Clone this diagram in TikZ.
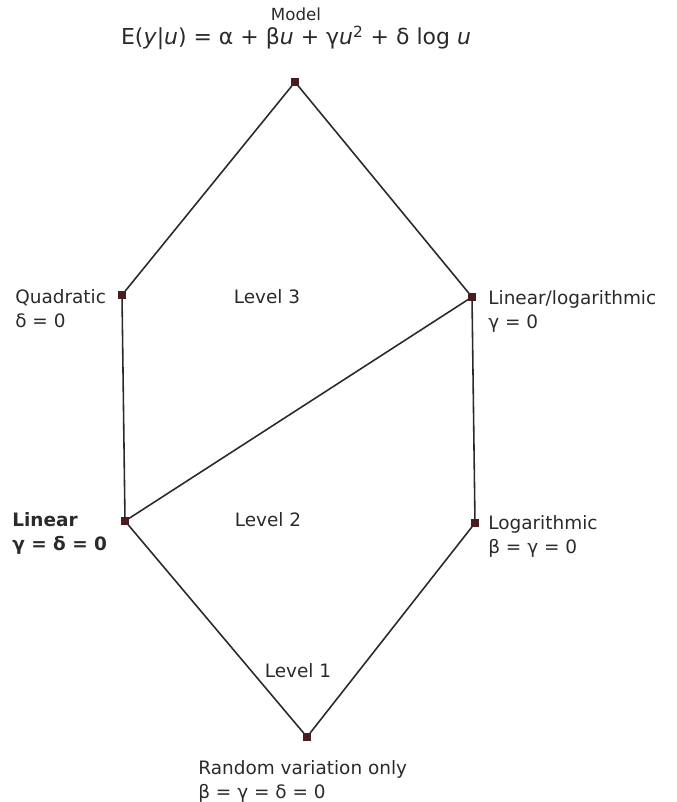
\documentclass[tikz,border=0pt]{standalone}
\usepackage{fontspec}
\setmainfont{DejaVu Sans}
\usepackage{xcolor}
\definecolor{ink}{HTML}{2A2A2A}
\definecolor{dot}{HTML}{4A1E1E}
\usepackage{tikz}
\usetikzlibrary{positioning}

\begin{document}
\begin{tikzpicture}[
    vertex/.style={rectangle,fill=dot,minimum size=4pt,inner sep=0pt},
    lbl/.style={font=\fontsize{10.5}{13.6}\selectfont,text=ink,inner sep=0pt,align=left},
    edge/.style={draw=ink,line width=0.9pt}
  ]
  \useasboundingbox (0,0) rectangle (13.54,-16.04);

  % lattice of models
  \node[vertex] (full) at (5.9,-1.64) {};
  \node[vertex] (quad) at (2.44,-5.9) {};
  \node[vertex] (linlog) at (9.44,-5.94) {};
  \node[vertex] (lin) at (2.5,-10.42) {};
  \node[vertex] (log) at (9.5,-10.46) {};
  \node[vertex] (rand) at (6.14,-14.74) {};

  \draw[edge] (full) -- (quad) -- (lin) -- (rand) -- (log) -- (linlog) -- (full);
  \draw[edge] (lin) -- (linlog);

  % labels
  \node[lbl,font=\fontsize{9.5}{11}\selectfont] (model) at (5.92,-0.28) {Model};
  \node[lbl,font=\fontsize{12.5}{14}\selectfont] (eq) at (5.92,-0.76)
    {E(\textit{y}|\textit{u}) = α + β\textit{u} + γ\textit{u}\textsuperscript{2} + δ log \textit{u}};
  \node[lbl,anchor=north west] (lquad) at (0.3,-5.78) {Quadratic\\δ = 0};
  \node[lbl,anchor=north west] (llinlog) at (9.76,-5.8) {Linear/logarithmic\\γ = 0};
  \node[lbl,anchor=north west,font=\fontsize{10.5}{13.6}\selectfont\bfseries] (llin) at (0.24,-10.24) {Linear\\γ = δ = 0};
  \node[lbl,anchor=north west] (llog) at (9.76,-10.3) {Logarithmic\\β = γ = 0};
  \node[lbl,anchor=north west] (lrand) at (3.96,-15.2) {Random variation only\\β = γ = δ = 0};

  \node[lbl] (lev3) at (5.34,-5.94) {Level 3};
  \node[lbl] (lev2) at (5.36,-10.4) {Level 2};
  \node[lbl] (lev1) at (5.96,-13.42) {Level 1};
\end{tikzpicture}
\end{document}
